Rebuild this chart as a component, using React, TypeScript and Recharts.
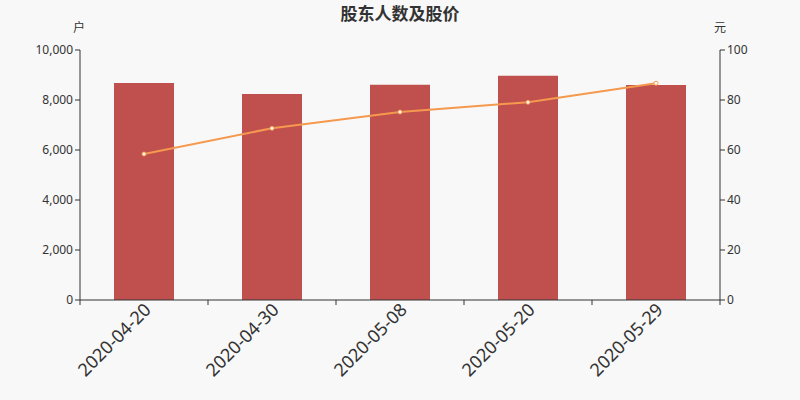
import { ComposedChart, Bar, Line, XAxis, YAxis } from "recharts";

const dates = ["2020-04-20", "2020-04-30", "2020-05-08", "2020-05-20", "2020-05-29"];
const holders = [8680, 8240, 8610, 8970, 8600];
const prices = [58.4, 68.7, 75.2, 79.1, 86.7];
const leftTicks = [0, 2000, 4000, 6000, 8000, 10000];
const rightTicks = [0, 20, 40, 60, 80, 100];

const chartData = dates.map((d, i) => ({ date: d, holders: holders[i], price: prices[i] }));

const FONT = "'Noto Sans', 'Noto Sans CJK SC', sans-serif";
const AXIS = "#333";

function DateTick(props: any) {
  const { x, y, payload, index, visibleTicksCount } = props;
  const half = 64;
  const tx = x + 3;
  const ty = y - 2;
  return (
    <g>
      <line x1={x - half} y1={y - 8} x2={x - half} y2={y - 3} stroke={AXIS} />
      {index === visibleTicksCount - 1 && (
        <line x1={x + half} y1={y - 8} x2={x + half} y2={y - 3} stroke={AXIS} />
      )}
      <text
        x={tx}
        y={ty}
        transform={`rotate(-45, ${tx}, ${ty})`}
        textAnchor="end"
        dominantBaseline="central"
        fontSize={18}
        fill="#333"
        fontFamily={FONT}
      >
        {payload.value}
      </text>
    </g>
  );
}

export default function App() {
  return (
    <div style={{ position: "absolute", left: 0, top: 0, width: 800, height: 400, background: "#f8f8f8" }}>
      <svg width={800} height={40} style={{ position: "absolute", left: 0, top: 0 }}>
        <text x={400} y={20} textAnchor="middle" fontSize={17} fontWeight="bold" fill="#333" fontFamily="'Noto Sans CJK SC', sans-serif">
          股东人数及股价
        </text>
        <text x={79} y={32} textAnchor="middle" fontSize={12} fill="#333" fontFamily="'Noto Sans CJK SC', sans-serif">
          户
        </text>
        <text x={720} y={32} textAnchor="middle" fontSize={12} fill="#333" fontFamily="'Noto Sans CJK SC', sans-serif">
          元
        </text>
      </svg>
      <ComposedChart
        width={800}
        height={400}
        data={chartData}
        margin={{ top: 50, right: 0, bottom: 0, left: 0 }}
        style={{ position: "absolute", left: 0, top: 0 }}
      >
        <XAxis
          dataKey="date"
          height={100}
          axisLine={{ stroke: AXIS }}
          tickLine={false}
          interval={0}
          tick={<DateTick />}
        />
        <YAxis
          yAxisId="left"
          width={80}
          domain={[0, 10000]}
          ticks={leftTicks}
          tickFormatter={(v: number) => v.toLocaleString("en-US")}
          axisLine={{ stroke: AXIS }}
          tickLine={{ stroke: AXIS }}
          tickSize={5}
          tick={{ fontSize: 12, fill: "#333", fontFamily: FONT }}
        />
        <YAxis
          yAxisId="right"
          orientation="right"
          width={80}
          domain={[0, 100]}
          ticks={rightTicks}
          axisLine={{ stroke: AXIS }}
          tickLine={{ stroke: AXIS }}
          tickSize={5}
          tick={{ fontSize: 12, fill: "#333", fontFamily: FONT }}
        />
        <Bar yAxisId="left" dataKey="holders" fill="#c0504d" barSize={60} isAnimationActive={false} />
        <Line
          yAxisId="right"
          dataKey="price"
          stroke="#f5994e"
          strokeWidth={2}
          dot={{ r: 2, fill: "#fff", stroke: "#f5994e", strokeWidth: 1 }}
          isAnimationActive={false}
        />
      </ComposedChart>
    </div>
  );
}
